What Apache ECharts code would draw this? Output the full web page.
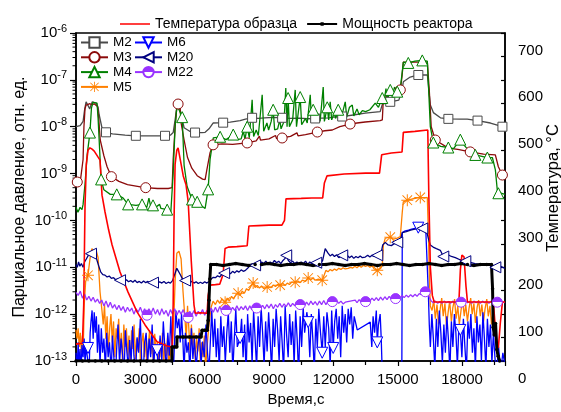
<!DOCTYPE html>
<html><head><meta charset="utf-8">
<script src="https://cdn.jsdelivr.net/npm/echarts@6/dist/echarts.min.js"></script>
<style>html,body{margin:0;padding:0;background:#fff}#c{width:561px;height:412px}</style>
</head><body><div id="c"></div>
<script>
const FONT = '"Liberation Sans", Arial, sans-serif';

// ---- partial pressures (time, s ; pressure, rel. units) ----
const m2 = [[0,1.0e-8],[190,1.05e-8],[330,1.3e-8],[400,2.3e-8],[470,3.4e-8],[560,3.2e-8],[640,2.4e-8],[700,2.9e-8],[760,3.4e-8],[850,3.3e-8],[940,3.2e-8],[1030,2.6e-8],[1080,1.8e-8],[1210,9.5e-9],[1400,7.6e-9],[1700,7.0e-9],[2290,6.6e-9],[2790,6.4e-9],[3300,6.4e-9],[3900,6.4e-9],[4150,6.4e-9],[4400,6.6e-9],[4530,7.5e-9],[4620,1.4e-8],[4710,2.8e-8],[4800,3.1e-8],[4900,1.8e-8],[5040,9.5e-9],[5300,8.0e-9],[5550,7.5e-9],[5880,7.5e-9],[6020,7.6e-9],[6200,9.0e-9],[6390,1.2e-8],[6860,1.22e-8],[7190,1.25e-8],[7650,1.35e-8],[7900,1.45e-8],[8210,1.55e-8],[8500,1.5e-8],[8800,1.55e-8],[9200,1.58e-8],[9610,1.55e-8],[10000,1.5e-8],[10400,1.52e-8],[10800,1.48e-8],[11150,1.5e-8],[11800,1.55e-8],[12000,1.6e-8],[12410,1.65e-8],[13000,1.8e-8],[13480,1.95e-8],[14180,2.1e-8],[14300,3.2e-8],[14650,3.4e-8],[15050,3.7e-8],[15200,6.0e-8],[15260,9.1e-8],[15580,1.15e-7],[15960,1.27e-7],[16380,1.27e-7],[16450,6.0e-8],[16520,2.9e-8],[16660,2.0e-8],[16990,1.55e-8],[17360,1.47e-8],[17920,1.45e-8],[18240,1.45e-8],[18720,1.35e-8],[19320,1.2e-8],[19880,1.0e-8],[20000,1.0e-8]];
const m2Marks = [1400,2790,4150,5550,6860,8210,9610,11150,12410,14650,15960,17360,18720,19880];

const m3 = [[60,6.6e-10],[200,6.8e-10],[280,7.2e-10],[330,2e-9],[370,1e-8],[420,2.4e-8],[470,2.9e-8],[560,2.8e-8],[650,3.1e-8],[750,2.9e-8],[850,3.1e-8],[940,3.0e-8],[1000,2.7e-8],[1060,1.5e-8],[1130,5.2e-9],[1300,2.4e-9],[1450,1.4e-9],[1650,8.6e-10],[2000,6.8e-10],[2400,5.8e-10],[3000,5.2e-10],[3250,5.0e-10],[3800,4.8e-10],[4300,4.8e-10],[4480,5.0e-10],[4530,2e-9],[4620,1e-8],[4700,2.6e-8],[4760,3.05e-8],[4850,2.5e-8],[4900,1.2e-8],[5040,5.2e-9],[5200,2.2e-9],[5400,1.3e-9],[5650,9e-10],[5900,7.6e-10],[6020,7.4e-10],[6100,1.2e-9],[6250,2.8e-9],[6390,4.1e-9],[6800,4.3e-9],[7300,4.2e-9],[7980,4.5e-9],[8400,5.0e-9],[8550,6.3e-9],[8600,5.2e-9],[9000,5.5e-9],[9300,6.5e-9],[9350,5.6e-9],[9610,5.75e-9],[10000,6.2e-9],[10300,7.4e-9],[10350,6.4e-9],[10700,6.8e-9],[11250,7.7e-9],[11600,8.2e-9],[11950,8.5e-9],[12300,1.0e-8],[12780,1.14e-8],[13100,1.2e-8],[13480,1.26e-8],[14180,1.35e-8],[14280,1.4e-8],[14330,4.0e-8],[14600,4.8e-8],[15120,6.1e-8],[15200,1.2e-7],[15260,2.4e-7],[15800,2.4e-7],[16380,2.4e-7],[16470,6e-8],[16560,1e-8],[16750,5.2e-9],[17360,3.5e-9],[17800,3.3e-9],[18380,2.9e-9],[19000,2.6e-9],[19550,2.5e-9],[19690,1.4e-9],[19880,9.3e-10],[20000,8.5e-10]];
const m3Marks = [60,1650,3250,4760,6390,7980,9610,11250,12780,15120,16750,18380,19880];

const m4 = [[0,1.9e-10],[90,1.5e-10],[190,1.9e-10],[280,1.7e-10],[330,2.2e-10],[420,6e-10],[520,2.5e-9],[650,7.5e-9],[720,2.5e-8],[790,3.3e-8],[880,3.4e-8],[980,3.2e-8],[1030,1.5e-8],[1170,7.5e-10],[1300,4.5e-10],[1600,3.6e-10],[1900,3.6e-10],[2200,3.0e-10],[2430,2.2e-10],[2800,2.1e-10],[3080,2.2e-10],[3300,1.9e-10],[3400,3.0e-10],[3480,2.0e-10],[3590,2.1e-10],[3700,1.9e-10],[3900,2.2e-10],[3960,1.8e-10],[4250,1.7e-10],[4420,1.5e-10],[4530,1e-9],[4620,1e-8],[4710,2.9e-8],[4780,2.7e-8],[4950,1.6e-8],[5040,1.5e-9],[5180,5.3e-10],[5410,2.8e-10],[5650,2.5e-10],[5880,2.0e-10],[6020,1.8e-10],[6160,4.6e-10],[6250,2e-9],[6400,5.8e-9],[6720,6.1e-9],[7000,5.3e-9],[7330,6.8e-9],[7500,5.3e-9],[7700,5.5e-9],[7800,8e-9],[7880,5.4e-9],[7980,1e-8],[8080,5.8e-9],[8212,3.75e-8],[8280,6.2e-9],[8400,8.5e-9],[8500,6.5e-9],[8680,4.8e-8],[8750,8e-9],[8900,1.2e-8],[8980,8.5e-9],[9100,1.3e-8],[9192,2.3e-8],[9260,8.6e-9],[9400,9e-9],[9500,1.4e-8],[9560,9e-9],[9700,1.3e-8],[9780,6.7e-8],[9840,1e-8],[9890,4.1e-8],[9950,1e-8],[10100,1.4e-8],[10220,6.1e-8],[10280,1e-8],[10452,4.3e-8],[10520,1.1e-8],[10700,1.5e-8],[10780,1.2e-8],[10920,4.8e-8],[10980,1.25e-8],[11058,2.3e-8],[11150,1.3e-8],[11300,1.7e-8],[11380,1.3e-8],[11525,7e-8],[11580,1.3e-8],[11712,2.6e-8],[11780,1.4e-8],[11850,3.4e-8],[11920,1.4e-8],[12050,2e-8],[12100,1.5e-8],[12225,2.3e-8],[12300,1.6e-8],[12450,2.2e-8],[12552,3.4e-8],[12620,1.6e-8],[12750,2.6e-8],[12880,2.9e-8],[12950,1.7e-8],[13100,2.4e-8],[13200,1.8e-8],[13350,2.2e-8],[13500,2.1e-8],[13700,2.3e-8],[13950,3.2e-8],[14100,2.6e-8],[14278,4.1e-8],[14350,3e-8],[14450,6.5e-8],[14520,3.8e-8],[14651,6.1e-8],[14750,4.5e-8],[14850,7e-8],[14978,5.6e-8],[15100,5.5e-8],[15211,1.5e-7],[15260,2.4e-7],[15491,2.3e-7],[15800,2.5e-7],[16144,2.6e-7],[16378,2.5e-7],[16430,8e-8],[16518,1e-8],[16658,4.6e-9],[17000,3.8e-9],[17358,3.6e-9],[17600,3.4e-9],[17820,4.6e-9],[17917,5.3e-9],[18100,4e-9],[18400,2.8e-9],[18617,2.5e-9],[19177,2.2e-9],[19411,2.2e-9],[19551,1.2e-9],[19650,4e-10],[19690,3.8e-10],[20000,3.6e-10]];
const m4Marks = [650,1170,1900,2430,3080,3590,4250,4950,5410,5650,6160,6720,7330,7980,9192,9890,10452,11058,11712,12225,14278,14651,14978,15491,16144,16658,17358,17917,18617,19177,19690];

const m5 = [[0,4.6e-13],[50,3e-13],[100,5e-13],[150,2e-13],[200,4e-13],[250,1.5e-13],[300,3.5e-13],[340,2e-13],[380,1.5e-12],[450,5e-12],[560,6.75e-12],[650,1.5e-11],[740,2.5e-11],[830,2.2e-11],[930,2.4e-11],[1030,1.6e-11],[1120,3e-12],[1210,1.2e-12],[1270,6e-13],[1330,1.6e-12],[1390,3e-13],[1450,9e-13],[1510,1.5e-13],[1570,5e-13],[1630,1e-12],[1690,2.5e-13],[1750,7e-13],[1810,1.2e-13],[1870,5e-13],[1930,3e-13],[1990,8e-13],[2050,1.5e-13],[2110,4e-13],[2170,9e-14],[2230,6e-13],[2290,2e-13],[2350,5e-13],[2410,1.3e-13],[2470,3.5e-13],[2530,7e-14],[2590,4.5e-13],[2650,1.8e-13],[2710,6e-13],[2770,1.1e-13],[2830,3e-13],[2890,1.6e-13],[2950,5e-13],[3010,8e-14],[3070,2.5e-13],[3130,4e-13],[3190,1.2e-13],[3250,3.2e-13],[3310,6e-14],[3370,2.2e-13],[3430,4.5e-13],[3490,1.4e-13],[3550,2.8e-13],[3610,8e-14],[3670,3.8e-13],[3730,1.5e-13],[3790,2.5e-13],[3850,6e-14],[3910,3e-13],[3970,1.2e-13],[4030,4e-13],[4090,9e-14],[4150,2.4e-13],[4210,1.3e-13],[4270,3.5e-13],[4330,7e-14],[4390,2e-13],[4450,1.1e-13],[4500,2.2e-13],[4570,1e-12],[4620,5e-12],[4700,2e-11],[4800,2.2e-11],[4900,1.5e-11],[4990,3e-12],[5080,8e-13],[5140,3e-13],[5200,1.5e-12],[5260,5e-13],[5320,1.5e-13],[5380,6e-13],[5440,2e-13],[5500,4e-13],[5560,1e-13],[5620,3e-13],[5680,1.6e-13],[5740,5e-13],[5800,8e-14],[5860,2.5e-13],[5920,1.2e-13],[5980,3.5e-13],[6040,7e-14],[6112,2e-13],[6200,6e-13],[6300,1.4e-12],[6390,1.9e-12],[6500,1.6e-12],[6600,2.0e-12],[6700,1.7e-12],[6800,2.1e-12],[6952,1.8e-12],[7050,2.2e-12],[7150,1.9e-12],[7250,2.4e-12],[7350,2.1e-12],[7450,2.6e-12],[7559,2.8e-12],[7650,2.5e-12],[7750,3.1e-12],[7850,2.8e-12],[7950,3.5e-12],[8050,3.2e-12],[8150,3.9e-12],[8259,4.6e-12],[8350,3.7e-12],[8450,4.1e-12],[8550,3.6e-12],[8650,4.0e-12],[8750,3.5e-12],[8912,3.8e-12],[9000,4.0e-12],[9100,3.7e-12],[9200,4.2e-12],[9300,3.9e-12],[9400,4.3e-12],[9518,4.15e-12],[9650,4.5e-12],[9750,4.1e-12],[9850,4.6e-12],[9950,4.3e-12],[10050,4.8e-12],[10219,4.8e-12],[10350,5.1e-12],[10450,4.7e-12],[10550,5.3e-12],[10700,5.0e-12],[10825,5.9e-12],[10950,5.4e-12],[11050,5.9e-12],[11150,5.3e-12],[11300,5.6e-12],[11478,5.3e-12],[11580,7e-12],[11650,8.6e-12],[11750,8e-12],[11850,9e-12],[11950,8.4e-12],[12050,9.2e-12],[12150,8.6e-12],[12250,9.5e-12],[12350,9e-12],[12450,9.8e-12],[12550,9.2e-12],[12691,9.5e-12],[12800,1.0e-11],[12900,9.6e-12],[13000,1.05e-11],[13100,9.8e-12],[13200,1.08e-11],[13300,1.0e-11],[13400,1.1e-11],[13500,1.05e-11],[13600,1.1e-11],[13700,1.0e-11],[13800,1.08e-11],[13900,9.2e-12],[14045,8.6e-12],[14200,9.5e-12],[14278,1.1e-11],[14330,3e-11],[14418,4.2e-11],[14651,4.4e-11],[14800,4.0e-11],[14978,4.2e-11],[15118,4.5e-11],[15211,1.5e-10],[15258,2.5e-10],[15445,2.7e-10],[15700,2.9e-10],[16051,3.1e-10],[16250,3.0e-10],[16378,3.1e-10],[16430,5e-11],[16480,5e-12],[16518,1.5e-12],[16600,1.2e-12],[16680,2e-12],[16750,8e-13],[16830,1.6e-12],[16900,6e-13],[16980,1.3e-12],[17050,2.2e-12],[17120,9e-13],[17200,1.7e-12],[17270,5.5e-13],[17350,1.1e-12],[17420,1.9e-12],[17500,7e-13],[17570,1.4e-12],[17650,2.1e-12],[17720,8e-13],[17800,1.5e-12],[17870,6e-13],[17950,1.2e-12],[18020,2e-12],[18100,9e-13],[18170,1.6e-12],[18250,7e-13],[18320,1.3e-12],[18400,2.2e-12],[18470,1e-12],[18550,1.7e-12],[18620,6.5e-13],[18700,1.4e-12],[18770,2e-12],[18850,9e-13],[18920,1.6e-12],[19000,7e-13],[19070,1.3e-12],[19150,2.1e-12],[19220,9e-13],[19300,1.5e-12],[19370,6e-13],[19450,1.2e-12],[19520,4e-13],[19600,3e-13],[19700,1.5e-13],[19780,8e-14]];
const m5Marks = [560,6952,7559,8259,8912,9518,10219,10825,11478,14045,14651,15445,16051];

const m6 = [[0,1.5e-13],[50,6e-14],[100,2.5e-13],[140,8e-14],[190,1.8e-13],[230,5e-14],[280,2.2e-13],[330,1.2e-13],[380,3e-13],[420,9e-14],[470,2e-13],[560,1.9e-13],[610,6e-14],[660,4e-13],[700,7e-13],[750,1.2e-12],[800,3e-13],[850,1.1e-12],[900,4e-13],[950,9e-13],[1000,1.5e-13],[1060,6e-13],[1120,8e-14],[1180,5e-13],[1240,1.5e-13],[1300,3e-13],[1370,7e-14],[1430,4e-13],[1500,1.2e-13],[1560,2.5e-13],[1640,6e-14],[1700,3.5e-13],[1770,1.1e-13],[1840,5e-14],[1900,2e-13],[1960,6e-13],[2030,9e-14],[2100,3e-13],[2170,1.4e-13],[2240,5e-14],[2300,4.5e-13],[2370,1.6e-13],[2440,7e-14],[2500,2.8e-13],[2570,1e-13],[2640,5.5e-13],[2700,1.3e-13],[2780,6e-14],[2850,3.2e-13],[2920,1.5e-13],[3000,8e-13],[3060,1.1e-13],[3130,5e-14],[3200,2.5e-13],[3270,4e-13],[3340,9e-14],[3410,3e-13],[3480,1.2e-13],[3550,6e-13],[3620,8e-14],[3690,2.2e-13],[3780,1.7e-13],[3850,5e-14],[3920,3.5e-13],[4000,1e-13],[4070,7e-13],[4140,2e-13],[4210,6e-14],[4280,4e-13],[4350,1.3e-13],[4420,9e-13],[4480,2e-13],[4540,6e-14],[4600,3e-13],[4660,1.2e-12],[4720,5e-13],[4800,8e-13],[4860,2.5e-13],[4920,1e-12],[4980,3e-13],[5040,6e-14],[5100,4e-13],[5170,1.5e-13],[5240,2.5e-13],[5310,6e-14],[5380,5e-13],[5450,1.1e-13],[5520,3e-13],[5600,7e-14],[5680,2e-13],[5760,4e-13],[5830,8e-14],[5900,2.6e-13],[5980,1.2e-13],[6060,6e-13],[6130,1.5e-13],[6200,6e-14],[6270,3e-13],[6330,1.2e-12],[6400,2e-13],[6470,8e-13],[6540,1.2e-13],[6610,5e-13],[6680,6e-14],[6750,9e-13],[6820,2e-13],[6890,5.5e-13],[6960,9e-14],[7030,4e-13],[7100,1.1e-12],[7170,1.5e-13],[7240,7e-13],[7310,6e-14],[7380,3e-13],[7450,1.3e-12],[7520,2e-13],[7650,3.1e-13],[7720,8e-13],[7790,1.2e-13],[7860,6e-13],[7930,5e-14],[8000,1e-12],[8070,2.5e-13],[8140,6.5e-13],[8210,9e-14],[8280,1.2e-12],[8350,3e-13],[8420,7e-14],[8490,9e-13],[8560,2e-13],[8630,1.4e-12],[8700,4e-13],[8770,8e-14],[8840,7e-13],[8910,1.6e-13],[8980,1.1e-12],[9050,3e-13],[9120,6e-14],[9190,8e-13],[9260,2e-13],[9330,1.3e-12],[9400,4.5e-13],[9470,1e-13],[9540,9e-13],[9610,2.5e-13],[9680,6e-14],[9750,1.5e-12],[9820,3.5e-13],[9890,1.2e-13],[9960,1e-12],[10030,2.2e-13],[10100,7e-13],[10170,8e-14],[10240,1.2e-12],[10310,3e-13],[10380,5e-14],[10450,9e-13],[10520,2e-13],[10590,1.4e-12],[10660,4e-13],[10760,1.1e-12],[10825,6.75e-13],[10900,1.2e-13],[10970,1e-12],[11040,3e-13],[11110,6e-14],[11180,8e-13],[11250,2e-13],[11320,1.3e-12],[11400,4e-13],[11478,1.5e-13],[11550,9e-13],[11620,2e-13],[11700,1.1e-12],[11780,5e-13],[11850,8e-14],[11920,1.2e-12],[11991,1.9e-13],[12060,7e-13],[12130,1.3e-12],[12200,3e-13],[12270,9e-13],[12340,1.2e-13],[12410,1.5e-12],[12480,4e-13],[12550,1e-12],[12620,2.5e-13],[12690,1.3e-12],[12760,6e-13],[12830,1.4e-12],[12900,3e-13],[12970,9e-13],[13111,4.6e-13],[13718,6.75e-13],[13790,2e-13],[13850,9e-13],[13920,4e-13],[14000,1.2e-12],[14045,2.5e-13],[14100,6e-13],[14180,1e-12],[14230,3e-13],[14280,5e-14],[15190,5e-14],[15211,5.5e-11],[15350,6e-11],[15500,6.2e-11],[15650,6.5e-11],[15800,6.8e-11],[15957,7e-11],[16150,7.3e-11],[16300,7.5e-11],[16378,7.8e-11],[16424,3e-12],[16470,6e-13],[16520,2e-13],[16590,1e-12],[16660,3e-13],[16730,7e-14],[16800,8e-13],[16870,2e-13],[16940,1.2e-12],[17010,4e-13],[17080,9e-14],[17150,6e-13],[17220,1.5e-13],[17290,9e-13],[17360,3e-13],[17430,6e-14],[17500,7e-13],[17570,2e-13],[17640,1e-12],[17710,4e-13],[17780,8e-14],[17850,5.5e-13],[17917,4.6e-13],[17990,1.2e-13],[18060,8e-13],[18130,2e-13],[18200,6e-14],[18270,7e-13],[18340,3e-13],[18410,1e-12],[18480,1.5e-13],[18550,5e-13],[18620,7e-14],[18690,9e-13],[18760,2.5e-13],[18830,6e-13],[18900,1e-13],[18970,1.1e-12],[19040,3e-13],[19110,7e-14],[19180,8e-13],[19250,2e-13],[19320,6e-13],[19390,9e-14],[19460,4e-13],[19530,1.2e-13],[19600,5e-14],[19700,2e-13],[19800,6e-14],[19900,1.5e-13],[20000,8e-14]];
const m6Marks = [560,3780,7650,10825,11478,11991,14045,15957,17917];

const m20 = [[0,1.15e-11],[60,1.0e-11],[120,1.3e-11],[180,1.05e-11],[250,1.2e-11],[330,1.0e-11],[400,1.3e-11],[480,1.5e-11],[560,1.75e-11],[650,2.0e-11],[700,1.95e-11],[790,2.0e-11],[880,1.8e-11],[960,1.5e-11],[1050,1.1e-11],[1150,8e-12],[1250,7e-12],[1350,6.8e-12],[1450,6.2e-12],[1550,6.5e-12],[1650,5.8e-12],[1750,6.0e-12],[1850,5.4e-12],[1950,5.7e-12],[2053,5.3e-12],[2150,5.5e-12],[2250,5.0e-12],[2350,5.4e-12],[2450,4.9e-12],[2550,5.2e-12],[2650,4.8e-12],[2750,5.3e-12],[2850,4.7e-12],[2950,5.0e-12],[3050,4.6e-12],[3150,5.1e-12],[3250,4.7e-12],[3350,5.0e-12],[3450,4.6e-12],[3590,4.7e-12],[3700,5.0e-12],[3800,4.5e-12],[3900,4.9e-12],[4000,4.6e-12],[4100,5.0e-12],[4200,4.5e-12],[4300,4.8e-12],[4400,4.6e-12],[4500,5.2e-12],[4600,7e-12],[4700,9.5e-12],[4780,9e-12],[4860,7e-12],[4950,5.8e-12],[5086,5.2e-12],[5200,5.0e-12],[5300,4.7e-12],[5400,5.0e-12],[5500,4.6e-12],[5600,4.9e-12],[5700,4.5e-12],[5800,4.8e-12],[5900,4.5e-12],[6000,4.9e-12],[6100,4.6e-12],[6200,5.0e-12],[6300,5.6e-12],[6400,6.1e-12],[6500,6.0e-12],[6600,6.6e-12],[6700,6.2e-12],[6800,7.0e-12],[6906,7.5e-12],[7000,7.0e-12],[7100,7.8e-12],[7200,7.3e-12],[7300,8.2e-12],[7400,7.6e-12],[7500,8.4e-12],[7600,7.9e-12],[7700,8.8e-12],[7800,8.2e-12],[7900,8.6e-12],[8000,9.5e-12],[8119,1.1e-11],[8250,1.2e-11],[8350,1.1e-11],[8450,1.25e-11],[8550,1.15e-11],[8650,1.3e-11],[8750,1.2e-11],[8850,1.35e-11],[8950,1.15e-11],[9050,1.3e-11],[9150,1.2e-11],[9250,1.4e-11],[9350,1.25e-11],[9450,1.35e-11],[9550,1.2e-11],[9650,1.4e-11],[9750,1.55e-11],[9800,1.8e-11],[9900,1.4e-11],[10000,1.25e-11],[10100,1.35e-11],[10200,1.2e-11],[10300,1.3e-11],[10400,1.15e-11],[10500,1.3e-11],[10600,1.2e-11],[10700,1.35e-11],[10800,1.15e-11],[10900,1.3e-11],[11000,1.2e-11],[11100,1.3e-11],[11200,1.25e-11],[11300,1.35e-11],[11400,1.2e-11],[11500,1.4e-11],[11618,2.5e-11],[11750,2.0e-11],[11850,1.75e-11],[11950,1.9e-11],[12050,1.7e-11],[12150,1.85e-11],[12250,1.6e-11],[12412,1.8e-11],[12550,1.65e-11],[12650,1.8e-11],[12750,1.6e-11],[12850,1.75e-11],[12950,1.55e-11],[13050,1.7e-11],[13150,1.6e-11],[13250,1.75e-11],[13350,1.6e-11],[13485,1.65e-11],[13600,1.8e-11],[13700,1.65e-11],[13800,1.8e-11],[13900,1.7e-11],[14045,1.8e-11],[14200,1.75e-11],[14300,3.0e-11],[14418,3.4e-11],[14550,3.0e-11],[14700,2.9e-11],[14840,3.2e-11],[14978,3.4e-11],[15100,3.5e-11],[15211,5.5e-11],[15400,5.8e-11],[15600,6.2e-11],[15800,6.5e-11],[16000,6.6e-11],[16144,6.75e-11],[16300,7.0e-11],[16378,6.8e-11],[16470,3.5e-11],[16518,3.0e-11],[16650,2.7e-11],[16800,2.5e-11],[16984,2.3e-11],[17124,1.7e-11],[17300,1.9e-11],[17500,1.7e-11],[17684,1.6e-11],[17900,1.45e-11],[18151,1.35e-11],[18384,1.28e-11],[18600,1.2e-11],[18850,1.15e-11],[19100,1.1e-11],[19317,1.1e-11],[19550,1.0e-11],[19800,1.05e-11],[20000,9.5e-12]];
const m20Marks = [700,2053,3590,5086,6906,8350,9800,11200,12412,14045,14978,16144,17124,18151,19550];

const m22 = [[0,2.9e-12],[100,2.5e-12],[200,3.1e-12],[300,2.2e-12],[400,2.7e-12],[500,2.0e-12],[600,2.4e-12],[700,1.9e-12],[800,2.3e-12],[900,1.8e-12],[1000,2.1e-12],[1100,1.7e-12],[1200,2.0e-12],[1300,1.5e-12],[1400,1.9e-12],[1500,1.4e-12],[1600,1.8e-12],[1700,1.35e-12],[1800,1.6e-12],[1900,1.25e-12],[2000,1.55e-12],[2100,1.2e-12],[2200,1.45e-12],[2300,1.1e-12],[2400,1.4e-12],[2500,1.15e-12],[2600,1.35e-12],[2700,1.0e-12],[2800,1.3e-12],[2900,1.1e-12],[3000,1.4e-12],[3100,1.05e-12],[3200,1.3e-12],[3313,0.95e-12],[3400,1.3e-12],[3500,1.05e-12],[3600,1.35e-12],[3700,1.0e-12],[3800,1.25e-12],[3900,0.95e-12],[4000,1.3e-12],[4100,1.0e-12],[4200,1.2e-12],[4300,0.9e-12],[4400,1.25e-12],[4500,1.0e-12],[4600,1.3e-12],[4700,0.95e-12],[4800,1.2e-12],[4900,1.0e-12],[5000,1.25e-12],[5100,0.9e-12],[5226,0.85e-12],[5300,1.15e-12],[5400,0.95e-12],[5500,1.2e-12],[5600,0.9e-12],[5700,1.15e-12],[5800,1.0e-12],[5900,1.25e-12],[6000,0.95e-12],[6100,1.2e-12],[6200,1.0e-12],[6300,1.35e-12],[6400,1.1e-12],[6500,1.4e-12],[6600,1.1e-12],[6700,1.45e-12],[6800,1.15e-12],[6900,1.4e-12],[7000,1.2e-12],[7100,1.45e-12],[7200,1.15e-12],[7300,1.4e-12],[7400,1.2e-12],[7500,1.5e-12],[7600,1.2e-12],[7700,1.45e-12],[7800,1.25e-12],[7900,1.5e-12],[8000,1.2e-12],[8100,1.5e-12],[8200,1.25e-12],[8300,1.55e-12],[8420,1.35e-12],[8500,1.6e-12],[8600,1.3e-12],[8700,1.55e-12],[8800,1.3e-12],[8900,1.6e-12],[9000,1.35e-12],[9100,1.65e-12],[9200,1.3e-12],[9300,1.6e-12],[9400,1.4e-12],[9500,1.7e-12],[9600,1.4e-12],[9700,1.65e-12],[9800,1.45e-12],[9900,1.75e-12],[10000,1.45e-12],[10100,1.7e-12],[10200,1.5e-12],[10300,1.8e-12],[10452,1.6e-12],[10550,1.85e-12],[10650,1.5e-12],[10750,1.8e-12],[10850,1.55e-12],[10950,1.9e-12],[11050,1.6e-12],[11150,1.85e-12],[11250,1.55e-12],[11350,1.9e-12],[11450,1.6e-12],[11550,1.95e-12],[11650,1.6e-12],[11750,1.9e-12],[11850,1.65e-12],[11950,1.85e-12],[12050,1.65e-12],[12150,1.95e-12],[12250,1.7e-12],[12350,1.9e-12],[12450,1.65e-12],[12552,1.8e-12],[13018,2.0e-12],[13100,1.75e-12],[13200,2.05e-12],[13300,1.8e-12],[13400,2.1e-12],[13500,1.85e-12],[13600,2.15e-12],[13700,1.9e-12],[13800,2.2e-12],[13900,1.95e-12],[14000,2.25e-12],[14100,1.95e-12],[14200,2.3e-12],[14300,2.0e-12],[14400,2.35e-12],[14500,2.05e-12],[14600,2.4e-12],[14700,2.1e-12],[14800,2.45e-12],[14900,2.15e-12],[15000,2.5e-12],[15100,2.2e-12],[15200,2.5e-12],[15300,2.25e-12],[15400,2.55e-12],[15500,2.3e-12],[15600,2.6e-12],[15700,2.35e-12],[15800,2.65e-12],[15900,2.4e-12],[16000,2.75e-12],[16100,2.6e-12],[16200,2.9e-12],[16284,3.0e-12],[16378,2.9e-12],[16470,2.3e-12],[16560,1.9e-12],[16660,1.75e-12],[16760,1.9e-12],[16860,1.7e-12],[16960,1.85e-12],[17060,1.7e-12],[17160,1.9e-12],[17260,1.75e-12],[17360,1.85e-12],[17460,1.7e-12],[17560,1.9e-12],[17660,1.75e-12],[17760,1.85e-12],[17860,1.75e-12],[17950,1.8e-12],[18050,1.7e-12],[18150,1.9e-12],[18250,1.75e-12],[18350,1.85e-12],[18450,1.7e-12],[18550,1.9e-12],[18650,1.75e-12],[18750,1.85e-12],[18850,1.7e-12],[18950,1.9e-12],[19050,1.75e-12],[19150,1.85e-12],[19250,1.7e-12],[19350,1.9e-12],[19450,1.75e-12],[19540,1.85e-12],[19640,1.8e-12],[19750,1.7e-12],[19850,1.85e-12],[20000,1.75e-12]];
const m22Marks = [3313,5226,7000,8420,10452,11950,13500,14900,16284,17950,19640];

// ---- sample temperature, °C ----
const temperature = [[0,36],[150,37],[300,38],[360,120],[420,330],[480,420],[560,450],[650,455],[750,452],[850,448],[940,444],[1030,435],[1120,429],[1213,354],[1353,318],[1520,280],[1680,248],[2053,190],[2426,147],[2846,105],[3220,77],[3453,62],[3780,41],[4246,32],[4479,30],[4530,120],[4570,300],[4620,420],[4700,450],[4760,455],[4820,440],[4900,420],[5000,395],[5130,376],[5230,340],[5370,216],[5500,120],[5560,102],[5800,103],[6112,102],[6160,140],[6250,162],[6500,163],[6700,164],[6860,185],[6950,240],[7100,243],[7500,244],[7980,246],[8060,288],[8500,289],[9000,290],[9600,290],[9720,300],[9790,346],[10500,347],[11000,348],[11500,348],[11580,380],[11700,395],[12500,399],[13500,401],[14150,401],[14250,440],[14700,444],[15200,446],[15260,488],[15800,490],[16400,493],[16450,350],[16520,200],[16611,140],[16700,126],[17300,126],[17850,126],[17920,195],[17990,226],[18090,222],[18180,160],[18250,126],[18900,126],[19457,126],[19600,40],[19690,28],[19780,80],[19880,126],[20000,126]];

// ---- reactor power, relative units ----
const power = [[0,0],[300,0],[600,0],[900,0],[1200,0],[1500,0],[1800,0],[2100,0],[2400,0],[2700,0],[3000,0],[3300,0],[3600,0],[3900,0],[4200,0],[4470,0],[4480,0.145],[4600,0.145],[4700,0.145],[4710,0.25],[5000,0.25],[5300,0.25],[5600,0.25],[5830,0.25],[5880,0.32],[6000,0.32],[6120,0.32],[6160,0.42],[6200,0.63],[6240,0.85],[6280,1.0],[6550,1.0],[6850,0.99],[7150,1.0],[7450,1.01],[7750,1.0],[8050,0.99],[8350,1.0],[8650,1.0],[8950,1.01],[9250,1.0],[9550,0.99],[9850,1.0],[10150,1.0],[10450,1.01],[10750,1.0],[11050,0.99],[11350,1.0],[11650,1.0],[11950,1.01],[12250,1.0],[12550,0.99],[12850,1.0],[13150,1.0],[13450,1.01],[13750,1.0],[14050,0.99],[14350,1.0],[14650,1.0],[14950,1.01],[15250,1.0],[15550,0.99],[15850,1.0],[16150,1.0],[16450,1.01],[16750,1.0],[17050,0.99],[17350,1.0],[17650,1.0],[17950,1.01],[18250,1.0],[18550,0.99],[18850,1.0],[19150,1.0],[19370,1.0],[19420,0.75],[19450,0.35],[19500,0.27],[19560,0.39],[19620,0.12],[19680,0.05],[19750,0]];

const C = {m2:'#4a4a4a', m3:'#8b0a0a', m4:'#008000', m5:'#ff8000', m6:'#0000ff', m20:'#000080', m22:'#9933ff'};
const ASTERISK = 'path://M9.2 0H10.8V20H9.2Z M0 9.2H20V10.8H0Z M1.5 2.6L2.6 1.5L18.5 17.4L17.4 18.5Z M17.4 1.5L18.5 2.6L2.6 18.5L1.5 17.4Z';

function withMarks(points, marks) {
  const set = new Set(marks);
  return points.map(p => set.has(p[0]) ? { value: p } : { value: p, symbol: 'none' });
}

function pressureSeries(name, points, marks, color, symbol, size, extra) {
  return Object.assign({
    name, type: 'line', yAxisIndex: 0,
    data: withMarks(points, marks),
    symbol, symbolSize: size, showAllSymbol: true,
    lineStyle: { color, width: 1.3 },
    itemStyle: { color: '#fff', borderColor: color, borderWidth: 1 },
    emphasis: { disabled: true }
  }, extra || {});
}

// minor ticks of the logarithmic pressure axis (2..9 of every decade)
const minorLogTicks = [];
for (let e = -13; e < -6; e++) for (let k = 2; k <= 9; k++) minorLogTicks.push([0, k * Math.pow(10, e)]);

const halfFilled = { type: 'linear', x: 0, y: 0, x2: 0, y2: 1,
  colorStops: [{ offset: 0, color: C.m22 }, { offset: 0.5, color: C.m22 }, { offset: 0.5, color: '#fff' }, { offset: 1, color: '#fff' }] };

const txt = { fontFamily: FONT, color: '#000' };

const chart = echarts.init(document.getElementById('c'), null, { renderer: 'canvas' });
chart.setOption({
  animation: false,
  backgroundColor: '#fff',
  grid: { left: 76, right: 56, top: 33, bottom: 51, outerBoundsMode: 'none', containLabel: false,
          show: true, borderColor: '#000', borderWidth: 1.5, backgroundColor: 'transparent' },
  legend: [
    { data: [
        { name: 'Температура образца', icon: 'path://M0 0H0.01V0.01H0Z M0 4.2H30V5.8H0Z M0 9.99H0.01V10H0Z' },
        { name: 'Мощность реактора', icon: 'path://M0 0H0.01V0.01H0Z M0 4.1H30V5.9H0Z M13.4 3.3H16.6V6.7H13.4Z M0 9.99H0.01V10H0Z' }
      ],
      left: 120, top: 17, padding: 0, itemWidth: 30, itemHeight: 10, itemGap: 10,
      textStyle: Object.assign({ fontSize: 14 }, txt) },
    { data: ['M2', 'M3', 'M4', 'M5'], orient: 'vertical', left: 80, top: 35.5, padding: 0,
      itemWidth: 27, itemHeight: 13, itemGap: 0.8, textStyle: Object.assign({ fontSize: 13.5, lineHeight: 13 }, txt) },
    { data: ['M6', 'M20', 'M22'], orient: 'vertical', left: 134, top: 35.5, padding: 0,
      itemWidth: 27, itemHeight: 13, itemGap: 0.8, textStyle: Object.assign({ fontSize: 13.5, lineHeight: 13 }, txt) }
  ],
  xAxis: {
    type: 'value', min: 0, max: 20000, interval: 3000,
    axisLine: { lineStyle: { color: '#000', width: 1.5 } },
    axisTick: { length: 5, lineStyle: { color: '#000', width: 1.2 } },
    minorTick: { show: true, splitNumber: 2, length: 4, lineStyle: { color: '#000', width: 1.2 } },
    splitLine: { show: false },
    axisLabel: Object.assign({ fontSize: 15, margin: 11, showMaxLabel: false, formatter: v => String(v) }, txt),
    name: 'Время,с', nameLocation: 'middle', nameGap: 29,
    nameTextStyle: Object.assign({ fontSize: 15, padding: [0, 0, 0, 11] }, txt)
  },
  yAxis: [
    { type: 'log', logBase: 10, min: 1e-13, max: 1e-6, splitNumber: 7,
      axisLine: { show: true, lineStyle: { color: '#000', width: 1.5 } },
      axisTick: { show: true, length: 6, lineStyle: { color: '#000', width: 1.2 } },
      splitLine: { show: false },
      axisLabel: { margin: 9,
        formatter: v => '{b|10}{s|' + Math.round(Math.log10(v)) + '}',
        rich: { b: Object.assign({ fontSize: 15, lineHeight: 20 }, txt),
                s: Object.assign({ fontSize: 11, lineHeight: 12, verticalAlign: 'top' }, txt) } },
      name: 'Парциальное давление, отн. ед.', nameLocation: 'middle', nameGap: 48, nameMoveOverlap: false,
      nameTextStyle: Object.assign({ fontSize: 16 }, txt) },
    { type: 'value', position: 'right', min: 0, max: 700, interval: 50,
      axisLine: { show: true, lineStyle: { color: '#000', width: 1.5 } },
      axisTick: { show: true, inside: true, length: 4, lineStyle: { color: '#000', width: 1.2 } },
      splitLine: { show: false },
      axisLabel: Object.assign({ fontSize: 15, margin: 13, lineHeight: 15, verticalAlign: 'top', padding: [10, 0, 0, 0],
        formatter: v => (v % 100 === 0 ? String(v) : '') }, txt),
      name: 'Температура, °C', nameLocation: 'middle', nameGap: 40, nameMoveOverlap: false,
      nameTextStyle: Object.assign({ fontSize: 16.5, padding: [0, 0, 0, 18] }, txt) },
    { type: 'value', show: false, min: 0, max: 3.4 }
  ],
  series: [
    { type: 'custom', name: 'logMinorTicks', xAxisIndex: 0, yAxisIndex: 0, silent: true, clip: false,
      data: minorLogTicks,
      renderItem: (params, api) => {
        const p = api.coord([0, api.value(1)]);
        return { type: 'line', shape: { x1: p[0] - 3.5, y1: p[1], x2: p[0], y2: p[1] }, style: { stroke: '#000', lineWidth: 1 } };
      } },
    pressureSeries('M2', m2, m2Marks, C.m2, 'rect', 9),
    pressureSeries('M3', m3, m3Marks, C.m3, 'circle', 10),
    pressureSeries('M4', m4, m4Marks, C.m4, 'triangle', 11),
    pressureSeries('M5', m5, m5Marks, C.m5, ASTERISK, 12, { itemStyle: { color: C.m5, borderWidth: 0 } }),
    pressureSeries('M6', m6, m6Marks, C.m6, 'triangle', 11, { symbolRotate: 180 }),
    pressureSeries('M20', m20, m20Marks, C.m20, 'triangle', 11, { symbolRotate: 90 }),
    pressureSeries('M22', m22, m22Marks, C.m22, 'circle', 10, { itemStyle: { color: halfFilled, borderColor: C.m22, borderWidth: 1 } }),
    { name: 'Температура образца', type: 'line', yAxisIndex: 1, data: temperature, symbol: 'none',
      lineStyle: { color: '#ff0000', width: 1.6 }, itemStyle: { color: '#ff0000' }, emphasis: { disabled: true } },
    { name: 'Мощность реактора', type: 'line', yAxisIndex: 2, data: power, symbol: 'circle', symbolSize: 3.5, showAllSymbol: true,
      lineStyle: { color: '#000', width: 3 }, itemStyle: { color: '#000' }, emphasis: { disabled: true } }
  ]
});
</script>
</body></html>
